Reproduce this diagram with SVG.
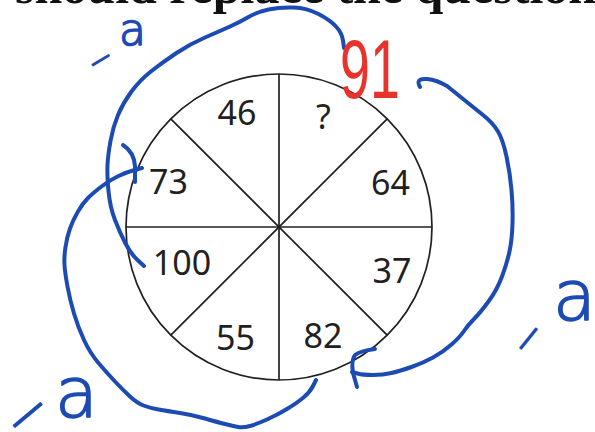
<svg xmlns="http://www.w3.org/2000/svg" width="595" height="432" viewBox="0 0 595 432">
<style>
.cap{font-family:"Liberation Serif","Times New Roman",serif;font-weight:bold;font-size:50px;fill:#111}
.wheel{fill:none;stroke:#231f20;stroke-width:1.7}
.num{font-family:"Noto Sans","Open Sans",sans-serif;font-size:34px;fill:#231f20;text-anchor:middle}
.ink{fill:none;stroke:#1c4bb4;stroke-width:4;stroke-linecap:round;stroke-linejoin:round}
.hb{font-family:"DejaVu Sans",sans-serif;font-weight:200;fill:#1c4bb4;stroke:#1c4bb4;stroke-width:1.6;stroke-linejoin:round}
.hr{font-family:"Liberation Sans",Arial,sans-serif;fill:#e8322a}
</style>
<rect width="595" height="432" fill="#fff"/>
<g id="top-caption">
<text class="cap" x="-166" y="3">number should replace the question mark?</text>
</g>
<g id="wheel">
<circle class="wheel" cx="279" cy="227" r="153"/>
<line class="wheel" x1="279" y1="74" x2="279" y2="380"/>
<line class="wheel" x1="126" y1="227" x2="432" y2="227"/>
<line class="wheel" x1="170.8" y1="118.8" x2="387.2" y2="335.2"/>
<line class="wheel" x1="387.2" y1="118.8" x2="170.8" y2="335.2"/>
</g>
<g id="n46"><text class="num" x="237" y="125">46</text></g>
<g id="nq"><text class="num" x="323.5" y="129">?</text></g>
<g id="n73"><text class="num" x="168.5" y="194">73</text></g>
<g id="n64"><text class="num" x="390.5" y="195">64</text></g>
<g id="n100"><text class="num" x="182" y="275">100</text></g>
<g id="n37"><text class="num" x="392" y="283">37</text></g>
<g id="n55"><text class="num" x="235.5" y="350">55</text></g>
<g id="n82"><text class="num" x="323" y="348">82</text></g>
<g id="connectors">
<path class="ink" d="M144,266 L137.5,260 Q131,254 125.5,243.5 Q120,233 115,220 Q110,207 108.5,191 Q107,175 107.5,165 Q108,155 110.5,141 Q113,127 118,115 Q123,103 131.5,91.5 Q140,80 151.5,71 Q163,62 176.5,53 Q190,44 205,37.5 Q220,31 230,26.5 Q240,22 248.5,17 Q257,12 268.5,9.5 Q280,7 293.5,7.5 Q307,8 318.5,14 Q330,20 336,26.5 Q342,33 343,40.5 L344,48"/>
<path class="ink" d="M123,145 Q134,152 135,166 L135,182"/>
<path class="ink" d="M142,168 L134.5,170 Q127,172 118.5,176 Q110,180 101.5,186.5 Q93,193 88,198 Q83,203 78,211.5 Q73,220 70,228.5 Q67,237 65.5,247 Q64,257 64.5,265 Q65,273 67.5,286.5 Q70,300 74,313.5 Q78,327 84,340 Q90,353 98.5,363 Q107,373 115,381.5 Q123,390 130,396.5 Q137,403 143.5,405.5 Q150,408 158.5,409.5 Q167,411 180,413 Q193,415 205,418.5 Q217,422 225,424 Q233,426 238,427 Q243,428 250,426 Q257,424 267,419.5 Q277,415 287,409 Q297,403 303.5,397.5 Q310,392 313,386 L316,380"/>
<path class="ink" d="M420,87 Q415,78 427,79 Q437,80 447,86 L460,96.5 Q473,107 483,115 Q493,123 498,131.5 Q503,140 506.5,156.5 Q510,173 511.5,190 Q513,207 512.5,223.5 Q512,240 509.5,251.5 Q507,263 502,276.5 Q497,290 488.5,301.5 Q480,313 474,319 Q468,325 464,331 Q460,337 451.5,344.5 Q443,352 433,357.5 Q423,363 411.5,367 Q400,371 391.5,373 Q383,375 373,375 Q363,375 357.5,373.5 L352,372"/>
<path class="ink" d="M375,349 Q360,351 355,355 Q351,360 353,373 L357,387"/>
</g>
<g id="label-top-left">
<text class="hb" font-size="30" text-anchor="middle" transform="translate(101,60.5) rotate(-31)" y="9">−</text>
<text class="hb" font-size="44" x="119" y="45">a</text>
</g>
<g id="label-bottom-left">
<text class="hb" font-size="56" text-anchor="middle" transform="translate(28,415.5) rotate(-40)" y="17">−</text>
<text class="hb" font-size="70" x="55" y="417">a</text>
</g>
<g id="label-right">
<text class="hb" font-size="40" text-anchor="middle" transform="translate(529,339) rotate(-51)" y="12">−</text>
<text class="hb" font-size="70" x="553" y="320">a</text>
</g>
<g id="label-91">
<text class="hr" font-size="84" transform="translate(340,98) scale(0.64,1)">91</text>
</g>
</svg>
